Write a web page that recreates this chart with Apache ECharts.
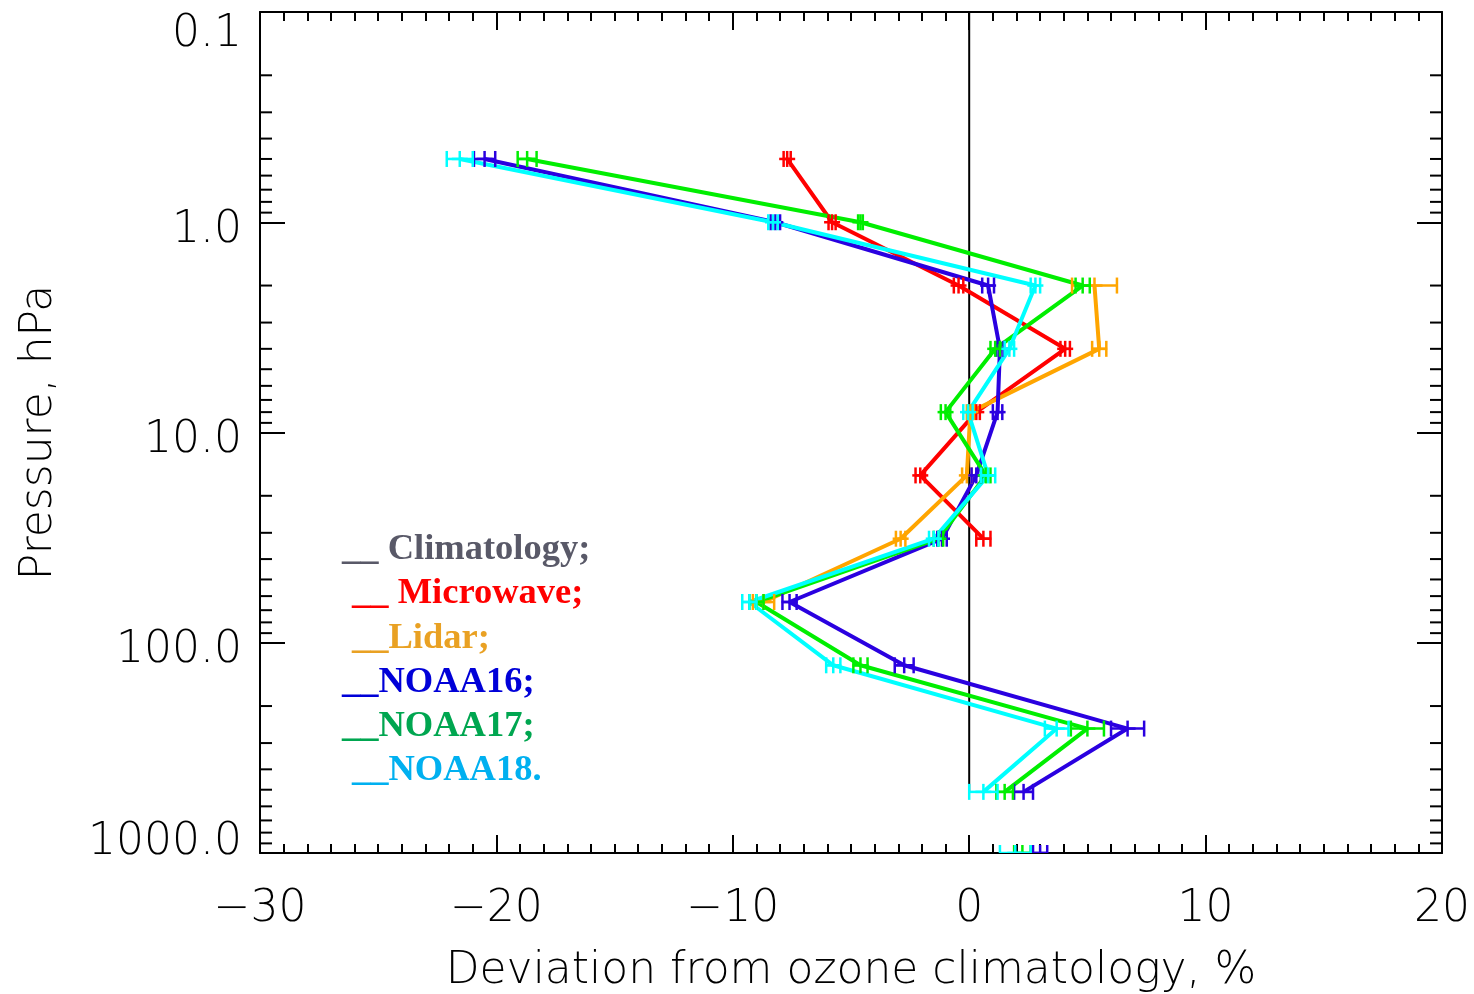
<!DOCTYPE html>
<html>
<head>
<meta charset="utf-8">
<script src="https://cdn.jsdelivr.net/npm/echarts@6/dist/echarts.min.js"></script>
<style>
  html, body { margin: 0; padding: 0; background: #ffffff; }
  #chart { width: 1474px; height: 994px; }
</style>
</head>
<body>
<div id="chart"></div>
<script>
// Layer pressures (hPa) at which the deviations are given
const pressureLevels = [0.5, 1, 2, 4, 8, 16, 32, 64, 128, 256, 512];
const microwaveLevels = pressureLevels.slice(0, 7);
const lidarLevels = pressureLevels.slice(2, 8);
const columnPressure = 1000;

// Climatology reference profile (zero deviation)
const climatologyDev = [0, 0];
const climatologyLevels = [0.1, 512];

// Mean deviation from climatology (%) and its uncertainty (%)
const microwaveDev = [-7.7, -5.8, -0.45, 4.06, 0.3, -2.07, 0.6];
const microwaveErr = [0.15, 0.15, 0.2, 0.2, 0.15, 0.2, 0.3];

const lidarDev = [5.3, 5.5, 0.05, -0.1, -2.9, -8.7];
const lidarErr = [0.95, 0.3, 0.15, 0.2, 0.2, 0.45];

const noaa16Dev = [-20.5, -8.2, 0.8, 1.3, 1.2, 0.3, -1.15, -7.6, -2.75, 6.7, 2.3];
const noaa16Err = [0.45, 0.2, 0.25, 0.15, 0.2, 0.2, 0.2, 0.3, 0.4, 0.7, 0.4];

const noaa17Dev = [-18.7, -4.6, 4.8, 1.1, -1.0, 0.7, -1.3, -9.0, -4.6, 5.0, 1.5];
const noaa17Err = [0.4, 0.1, 0.3, 0.2, 0.2, 0.2, 0.2, 0.3, 0.3, 0.7, 0.35];

const noaa18Dev = [-21.55, -8.3, 2.8, 1.7, -0.05, 0.8, -1.5, -9.3, -5.75, 3.7, 0.6];
const noaa18Err = [0.55, 0.2, 0.2, 0.2, 0.2, 0.3, 0.2, 0.3, 0.3, 0.5, 0.6];

// Total column deviation (%) and uncertainty for the satellites
const columnDev = [3.0, 2.25, 1.95];
const columnErr = [0.3, 0.35, 0.65];

// Axis tick labels
const xTickLabels = ['\u221230', '\u221220', '\u221210', '0', '10', '20'];
const yTickLabels = ['0.1', '1.0', '10.0', '100.0', '1000.0'];

// Legend entries
const legendTexts = ['__ Climatology;', '__ Microwave;', '__Lidar;', '__NOAA16;', '__NOAA17;', '__NOAA18.'];
const legendColors = ['#595968', '#ff0000', '#e9a123', '#0000d8', '#00a650', '#00b0f0'];

// Line colours of the profiles
const COLORS = {
  climatology: '#000000',
  microwave: '#ff0000',
  lidar: '#ffa500',
  noaa16: '#2a00e0',
  noaa17: '#00ee00',
  noaa18: '#00ffff'
};

const AXIS_FONT = '"DejaVu Sans", sans-serif';
const X_MIN = -30, X_MAX = 20;

function pairs(xs, ys) { return xs.map((x, i) => [x, ys[i]]); }
function triples(xs, ys, es) { return xs.map((x, i) => [x, ys[i], es[i]]); }

// Error bar with end caps and a "+" marker at the data point
function errorBarRenderer(color) {
  return function (params, api) {
    const x = api.value(0), y = api.value(1), e = api.value(2);
    const c = api.coord([x, y]);
    const l = api.coord([x - e, y]);
    const r = api.coord([x + e, y]);
    const h = 8;
    const seg = (x1, y1, x2, y2) => ({
      type: 'line',
      shape: { x1, y1, x2, y2 },
      style: { stroke: color, lineWidth: 2.5, fill: null }
    });
    return {
      type: 'group',
      children: [
        seg(l[0], l[1], r[0], r[1]),
        seg(l[0], l[1] - h, l[0], l[1] + h),
        seg(r[0], r[1] - h, r[0], r[1] + h),
        seg(c[0], c[1] - h, c[0], c[1] + h),
        seg(c[0] - h, c[1], c[0] + h, c[1])
      ]
    };
  };
}

// Minor ticks of the logarithmic pressure axis (2..9 within each decade)
const minorLogTicks = [];
for (let k = -1; k < 3; k++) {
  for (let m = 2; m <= 9; m++) minorLogTicks.push(+(m * Math.pow(10, k)).toPrecision(3));
}

function minorTickRenderer(params, api) {
  const v = api.value(1);
  const a = api.coord([X_MIN, v]);
  const b = api.coord([X_MAX, v]);
  const len = 12;
  const st = { stroke: '#000', lineWidth: 2 };
  return {
    type: 'group',
    children: [
      { type: 'line', shape: { x1: a[0], y1: a[1], x2: a[0] + len, y2: a[1] }, style: st },
      { type: 'line', shape: { x1: b[0], y1: b[1], x2: b[0] - len, y2: b[1] }, style: st }
    ]
  };
}

function profileLine(name, color, xs, ys) {
  return {
    name, type: 'line', data: pairs(xs, ys),
    symbol: 'none', silent: true, animation: false,
    lineStyle: { color, width: 4 }, itemStyle: { color }, z: 3
  };
}

function profileBars(name, color, xs, ys, es) {
  return {
    name: name + ' error', type: 'custom', data: triples(xs, ys, es),
    renderItem: errorBarRenderer(color), silent: true, animation: false,
    clip: true, z: 4
  };
}

const axisLineStyle = { color: '#000', width: 2 };

const xAxisCommon = {
  type: 'value', min: X_MIN, max: X_MAX, interval: 10,
  axisLine: { show: true, onZero: false, lineStyle: axisLineStyle },
  axisTick: { show: true, inside: true, length: 18, lineStyle: axisLineStyle },
  minorTick: { show: true, splitNumber: 10, length: 9, lineStyle: axisLineStyle },
  splitLine: { show: false }, minorSplitLine: { show: false }
};

const yAxisCommon = {
  type: 'log', logBase: 10, min: 0.1, max: 1000, inverse: true,
  axisLine: { show: true, onZero: false, lineStyle: axisLineStyle },
  axisTick: { show: true, inside: true, length: 25, lineStyle: axisLineStyle },
  splitLine: { show: false }
};

const labelFont = { fontFamily: AXIS_FONT, fontSize: 44, fontWeight: 200, color: '#000' };

const chart = echarts.init(document.getElementById('chart'), null, { renderer: 'canvas' });

chart.setOption({
  backgroundColor: '#ffffff',
  animation: false,
  grid: { left: 260, right: 32, top: 12, bottom: 141, containLabel: false, outerBoundsMode: 'none' },
  xAxis: [
    Object.assign({}, xAxisCommon, {
      position: 'bottom',
      axisLabel: Object.assign({
        show: true, margin: 35, showMinLabel: true, showMaxLabel: true,
        formatter: v => xTickLabels[Math.round((v - X_MIN) / 10)]
      }, labelFont),
      name: 'Deviation from ozone climatology, %',
      nameLocation: 'middle', nameGap: 97,
      nameTextStyle: labelFont
    }),
    Object.assign({}, xAxisCommon, {
      position: 'top', axisLabel: { show: false }
    })
  ],
  yAxis: [
    Object.assign({}, yAxisCommon, {
      position: 'left',
      axisLabel: Object.assign({
        show: true, margin: 18, showMinLabel: true, showMaxLabel: true,
        formatter: v => {
          const k = Math.round(Math.log10(v));
          const t = yTickLabels[k + 1];
          if (k === -1) return '{top|' + t + '}';
          if (k === 3) return '{bot|' + t + '}';
          return '{mid|' + t + '}';
        },
        rich: {
          top: Object.assign({ padding: [46, 0, 0, 0] }, labelFont),
          mid: Object.assign({ padding: [16, 0, 0, 0] }, labelFont),
          bot: Object.assign({ padding: [0, 0, 20, 0] }, labelFont)
        }
      }, labelFont),
      name: 'Pressure, hPa',
      nameLocation: 'middle', nameGap: 198, nameRotate: 90,
      nameTextStyle: labelFont
    }),
    Object.assign({}, yAxisCommon, {
      position: 'right', axisLabel: { show: false }
    })
  ],
  series: [
    {
      name: 'minor ticks', type: 'custom', data: minorLogTicks.map(v => [X_MIN, v]),
      renderItem: minorTickRenderer, silent: true, clip: false, z: 5
    },
    {
      name: 'Climatology', type: 'line', data: pairs(climatologyDev, climatologyLevels),
      symbol: 'none', silent: true, lineStyle: { color: COLORS.climatology, width: 2 }, z: 2
    },
    profileLine('Microwave', COLORS.microwave, microwaveDev, microwaveLevels),
    profileBars('Microwave', COLORS.microwave, microwaveDev, microwaveLevels, microwaveErr),
    profileLine('Lidar', COLORS.lidar, lidarDev, lidarLevels),
    profileBars('Lidar', COLORS.lidar, lidarDev, lidarLevels, lidarErr),
    profileLine('NOAA16', COLORS.noaa16, noaa16Dev, pressureLevels),
    profileBars('NOAA16', COLORS.noaa16, noaa16Dev, pressureLevels, noaa16Err),
    profileLine('NOAA17', COLORS.noaa17, noaa17Dev, pressureLevels),
    profileBars('NOAA17', COLORS.noaa17, noaa17Dev, pressureLevels, noaa17Err),
    profileLine('NOAA18', COLORS.noaa18, noaa18Dev, pressureLevels),
    profileBars('NOAA18', COLORS.noaa18, noaa18Dev, pressureLevels, noaa18Err),
    {
      name: 'Column', type: 'custom',
      data: columnDev.map((d, i) => [d, columnPressure, columnErr[i], i]),
      renderItem: (params, api) => {
        const cols = [COLORS.noaa16, COLORS.noaa17, COLORS.noaa18];
        return errorBarRenderer(cols[api.value(3)])(params, api);
      },
      silent: true, clip: true, z: 4
    }
  ],
  graphic: legendTexts.map((t, i) => ({
    type: 'text',
    left: [342, 352, 352, 342, 342, 352][i],
    top: 531 + i * 44.3,
    silent: true,
    style: {
      text: t,
      fill: legendColors[i],
      font: 'bold 36.5px "Liberation Serif", "Times New Roman", serif'
    }
  }))
});
</script>
</body>
</html>
